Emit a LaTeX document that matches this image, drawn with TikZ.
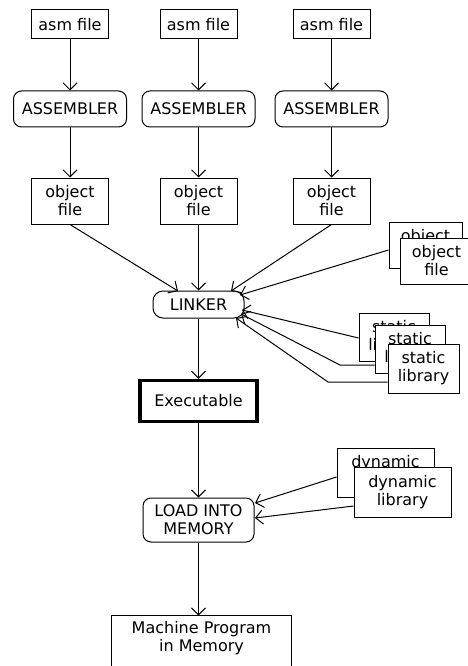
\documentclass[tikz,border=0pt]{standalone}
\usepackage{fontspec}
\setmainfont{DejaVu Sans}
\usetikzlibrary{arrows.meta}
\begin{document}
\begin{tikzpicture}[x=1pt,y=-1pt, line width=1pt,
  box/.style={draw, fill=white, inner sep=0pt, align=center, font=\fontsize{16}{18}\selectfont},
  rbox/.style={box, rounded corners=8pt},
  arr/.style={-{Straight Barb[length=7pt,width=14pt]}}]
\useasboundingbox (0,0) rectangle (467,666);
% column 1..3 sources
\node[box, minimum width=77pt, minimum height=29pt] (asm1) at (70,24.5) {asm file};
\node[box, minimum width=77pt, minimum height=29pt] (asm2) at (198.5,24.5) {asm file};
\node[box, minimum width=77pt, minimum height=29pt] (asm3) at (331.5,24.5) {asm file};
\node[rbox, minimum width=113pt, minimum height=36pt] (as1) at (70,109) {ASSEMBLER};
\node[rbox, minimum width=113pt, minimum height=36pt] (as2) at (198.5,109) {ASSEMBLER};
\node[rbox, minimum width=113pt, minimum height=36pt] (as3) at (331.5,109) {ASSEMBLER};
\node[box, minimum width=77pt, minimum height=46pt] (ob1) at (70,201) {object\\file};
\node[box, minimum width=77pt, minimum height=46pt] (ob2) at (198.5,201) {object\\file};
\node[box, minimum width=77pt, minimum height=46pt] (ob3) at (331.5,201) {object\\file};
% extra object files
\node[box, minimum width=73pt, minimum height=46pt] (ox1) at (425.5,245) {object\\file};
\node[box, minimum width=73pt, minimum height=46pt] (ox2) at (436.5,261) {object\\file};
% linker
\node[box, rounded corners=10pt, minimum width=91pt, minimum height=27pt] (lnk) at (198.5,304.5) {LINKER};
% static libraries
\node[box, minimum width=70pt, minimum height=48pt] (sA) at (394,337) {static\\library};
\node[box, minimum width=70pt, minimum height=48pt] (sB) at (410,349) {static\\library};
\node[box, minimum width=71pt, minimum height=49pt] (sC) at (423.5,368.5) {static\\library};
% executable
\node[box, line width=3.5pt, minimum width=117pt, minimum height=41pt] (exe) at (198.5,401) {Executable};
% dynamic libraries
\node[box, minimum width=97pt, minimum height=49pt] (d1) at (385.5,472.5) {dynamic\\library};
\node[box, minimum width=97pt, minimum height=50pt] (d2) at (402.5,492) {dynamic\\library};
% load
\node[rbox, minimum width=111pt, minimum height=44pt] (load) at (198.5,520) {LOAD INTO\\MEMORY};
% machine program (box runs past the bottom edge)
\node[box, draw=none, fill=none, minimum width=179pt, minimum height=44pt] (mp) at (201.5,638) {Machine Program\\in Memory};
\draw ([yshift=-30pt]mp.south west) -- (mp.north west) -- (mp.north east) -- ([yshift=-30pt]mp.south east);
% coordinates for arrow ends on linker and loader
\coordinate (t1) at (178,291);
\coordinate (t3) at (231,291);
\coordinate (tO) at (240,295);
\coordinate (tA) at (242,310);
\coordinate (tB) at (241,314);
\coordinate (tC) at (236,318);
\coordinate (bB) at (340,365);
\coordinate (bC) at (328,382);
\coordinate (tD1) at (255,503);
\coordinate (tD2) at (255,518);
% connectors
\foreach \i in {1,2,3}{
  \draw[arr] (asm\i.south) -- (as\i.north);
  \draw[arr] (as\i.south) -- (ob\i.north);
}
\draw[arr] (ob1.south) -- (t1);
\draw[arr] (ob2.south) -- (lnk.north);
\draw[arr] (ob3.south) -- (t3);
\draw[arr] ([yshift=-5pt]ox1.west) -- (tO);
\draw[arr] ([yshift=-1pt]sA.west) -- (tA);
\draw[arr] (sB.west |- bB) -- (bB) -- (tB);
\draw[arr] (sC.west |- bC) -- (bC) -- (tC);
\draw[arr] (lnk.south) -- (exe.north);
\draw[arr] (exe.south) -- (load.north);
\draw[arr] ([yshift=-4.5pt]d1.west) -- (tD1);
\draw[arr] ([yshift=-14pt]d2.west) -- (tD2);
\draw[arr] (load.south) -- (load.south |- mp.north);
\end{tikzpicture}
\end{document}
